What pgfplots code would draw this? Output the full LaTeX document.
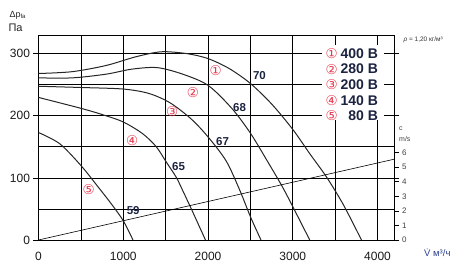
\documentclass[border=0pt]{standalone}
\usepackage{pgfplots}
\pgfplotsset{compat=1.18}
\usepackage{fontspec}
\setmainfont{Liberation Sans}
\newfontfamily\sym{DejaVu Sans}
\definecolor{cred}{HTML}{E8384F}
\definecolor{navy}{HTML}{1B2340}
\definecolor{vblue}{HTML}{2B3F8F}
\newcommand{\cnum}[1]{{\sym\fontsize{13.5}{13.5}\selectfont\color{cred}#1}}
\tikzset{leg/.style={anchor=east, inner sep=0pt, font=\fontsize{14}{14}\selectfont\bfseries, text=navy},
  clab/.style={font=\fontsize{11.5}{11.5}\selectfont\bfseries, text=navy}}
\begin{document}
\begin{tikzpicture}
\path[use as bounding box] (0,0) rectangle (461pt,265pt);
\begin{axis}[
  at={(38.5pt,25pt)}, anchor=south west,
  width=356pt, height=205pt, scale only axis,
  xmin=0, xmax=4200, ymin=0, ymax=330,
  xtick={0,1000,2000,3000,4000},
  minor xtick={500,1500,2500,3500},
  ytick={0,100,200,300},
  minor ytick={50,150,250},
  grid=both,
  major grid style={black, line width=0.65pt},
  minor grid style={black, line width=0.65pt},
  axis line style={black, line width=0.9pt},
  tick align=outside,
  major tick length=5pt, minor tick length=0pt,
  xtick style={draw=none},
  ytick style={black, line width=0.65pt},
  tick label style={font=\fontsize{12}{12}\selectfont, text=black!90},
  xticklabel style={yshift=-4pt},
  /pgf/number format/assume math mode=true,
  /pgf/number format/1000 sep={},
  clip=false,
]
\addplot[black!85, line width=1pt, smooth] coordinates {
(0,268) (400,271) (800,281) (1150,295) (1450,303) (1750,300) (2000,292) (2250,276) (2500,252) (2750,219) (3000,178) (3200,139) (3400,101) (3600,56) (3810,0)};
\addplot[black!85, line width=1pt, smooth] coordinates {
(0,261) (400,261) (800,267) (1100,275) (1400,277.5) (1700,267) (2000,249) (2280,212) (2500,172) (2700,127) (2880,85) (3040,43) (3200,0)};
\addplot[black!85, line width=1pt, smooth] coordinates {
(0,247.5) (500,245.5) (1000,243) (1300,236) (1550,221) (1800,195) (2000,166) (2215,127) (2375,80) (2505,36) (2625,0)};
\addplot[black!85, line width=1pt, smooth] coordinates {
(0,229.5) (500,212) (750,202) (1000,190) (1230,171) (1390,150) (1505,126) (1625,101) (1700,80) (1800,51) (1890,24) (1970,0)};
\addplot[black!85, line width=1pt, smooth] coordinates {
(0,173) (250,155) (500,120) (700,86) (860,58) (1000,31) (1115,0)};
\addplot[black, line width=0.6pt] coordinates {(0,0) (4200,130.2)};
% legend box
\fill[white] (axis cs:3343,193.5) rectangle (axis cs:4079,314);
\node at (axis cs:3460,300) {\cnum{①}};
\node at (axis cs:3460,275) {\cnum{②}};
\node at (axis cs:3460,250) {\cnum{③}};
\node at (axis cs:3460,225) {\cnum{④}};
\node at (axis cs:3460,200) {\cnum{⑤}};
\node[leg] at (axis cs:4008,300) {400 В};
\node[leg] at (axis cs:4008,275) {280 В};
\node[leg] at (axis cs:4008,250) {200 В};
\node[leg] at (axis cs:4008,225) {140 В};
\node[leg] at (axis cs:4008,200) {80 В};
% curve labels
\node[clab] at (axis cs:2607,265) {70};
\node[clab] at (axis cs:2372,214) {68};
\node[clab] at (axis cs:2172,158.6) {67};
\node[clab] at (axis cs:1652,119) {65};
\node[clab] at (axis cs:1117,48) {59};
\node at (axis cs:2090,272) {\cnum{①}};
\node at (axis cs:1823,238) {\cnum{②}};
\node at (axis cs:1576,207) {\cnum{③}};
\node at (axis cs:1106,160) {\cnum{④}};
\node at (axis cs:592,81) {\cnum{⑤}};
\end{axis}
\begin{axis}[
  at={(38.5pt,25pt)}, anchor=south west,
  width=356pt, height=205pt, scale only axis,
  xmin=0, xmax=4200, ymin=0, ymax=14.09,
  axis x line=none, axis y line*=right,
  axis line style={black, line width=0.9pt},
  ytick={0,1,2,3,4,5,6},
  tick align=outside, major tick length=4pt,
  ytick style={black, line width=0.65pt},
  yticklabel style={font=\fontsize{8}{8}\selectfont, text=black!75},
  /pgf/number format/assume math mode=true,
]
\end{axis}
\node[anchor=west, font=\fontsize{9}{9}\selectfont, text=black!85] at (6pt,250pt) {Δp\textsubscript{fa}};
\node[anchor=west, font=\fontsize{11}{11}\selectfont, text=black!85] at (5pt,237.5pt) {Па};
\node[anchor=west, font=\fontsize{6.5}{6.5}\selectfont, text=black!80] at (400pt,225pt) {\textit{ρ} = 1,20 кг/м³};
\node[anchor=west, font=\fontsize{7}{7}\selectfont, text=black!75, inner sep=0pt] at (399pt,136pt) {c};
\node[anchor=west, font=\fontsize{7}{7}\selectfont, text=black!75, inner sep=0pt] at (399pt,126pt) {m/s};
\node[anchor=west, font=\fontsize{9.5}{9.5}\selectfont, text=vblue, inner sep=0pt] at (424pt,12pt) {\.{V} м³/ч};
\end{tikzpicture}
\end{document}
